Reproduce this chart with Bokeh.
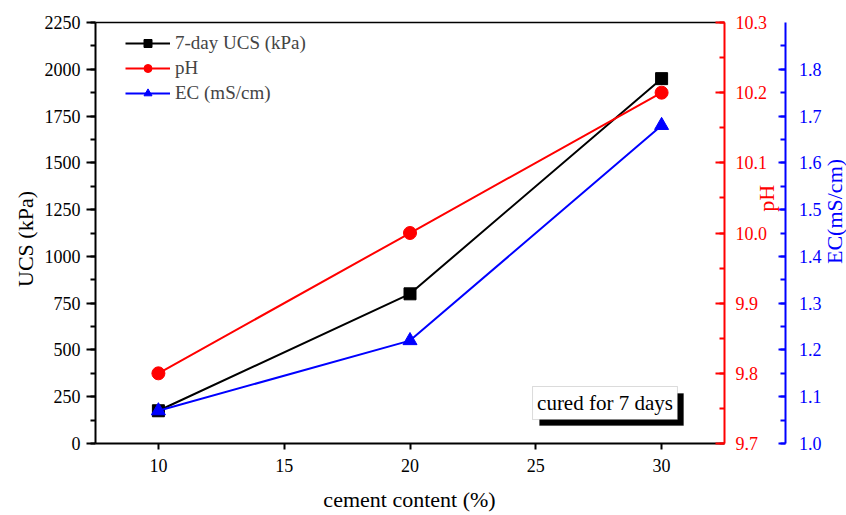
import math
from bokeh.plotting import figure
from bokeh.models import (Range1d, LinearAxis, SingleIntervalTicker, FixedTicker, PrintfTickFormatter,
                          BoxAnnotation, Label, Legend, LegendItem)
from bokeh.embed import file_html
from bokeh.resources import INLINE

cement = [10, 20, 30]
ucs = [175, 800, 1950]
ph = [9.80, 10.00, 10.20]
ec = [1.07, 1.22, 1.68]

FONT = "Liberation Serif"
RED = "#FF0000"
BLUE = "#0000FF"

X_MIN, X_MAX = 7.5, 32.5          # data extent of the drawn box
Y_MIN, Y_MAX = 0, 2250
# the view covers the whole canvas so that every axis (fixed in place) stays visible
X_VIEW = (3.724, 37.349)
Y_VIEW = (-384.8, 2367.6)
EC_AXIS_X = 34.94                 # where the EC axis stands

p = figure(width=846, height=515, output_backend="svg", toolbar_location=None,
           x_range=Range1d(*X_VIEW), y_range=Range1d(*Y_VIEW),
           min_border=0, min_border_left=0, min_border_top=0, min_border_bottom=0, min_border_right=0)
p.grid.visible = False
p.outline_line_color = None
p.background_fill_color = "white"
p.border_fill_color = "white"

p.extra_y_ranges = {"ph": Range1d(9.7, 10.3, bounds=None), "ec": Range1d(1.0, 1.9)}
# the extra ranges must map 9.7..10.3 and 1.0..1.9 onto the same pixels as 0..2250
span = (Y_VIEW[1] - Y_VIEW[0]) / (Y_MAX - Y_MIN)
def stretched(lo, hi):
    k = (hi - lo) / (Y_MAX - Y_MIN)
    return Range1d(lo + (Y_VIEW[0] - Y_MIN) * k, lo + (Y_VIEW[1] - Y_MIN) * k)
p.extra_y_ranges = {"ph": stretched(9.7, 10.3), "ec": stretched(1.0, 1.9)}

# bottom axis
xa = p.xaxis[0]
xa.ticker = SingleIntervalTicker(interval=5, num_minor_ticks=0)
xa.bounds = (X_MIN, X_MAX)
xa.fixed_location = Y_MIN
# left axis
ya = p.yaxis[0]
ya.ticker = SingleIntervalTicker(interval=250, num_minor_ticks=2)
ya.bounds = (Y_MIN, Y_MAX)
ya.fixed_location = X_MIN

for ax in (xa, ya):
    ax.axis_line_width = 2
    ax.axis_line_color = "black"
    ax.major_tick_line_width = 2
    ax.minor_tick_line_width = 2
    ax.major_label_text_font = FONT
    ax.major_label_text_font_size = "18px"
    ax.major_label_text_color = "black"
xa.major_tick_in = 0
xa.major_tick_out = 6
xa.major_label_standoff = 9
ya.major_tick_in = 0
ya.major_tick_out = 9
ya.minor_tick_in = 0
ya.minor_tick_out = 5
ya.major_label_standoff = 6

# top frame line
top = LinearAxis(fixed_location=Y_MAX, bounds=(X_MIN, X_MAX), ticker=FixedTicker(ticks=[]),
                 axis_line_color="black", axis_line_width=1.5)
p.add_layout(top, "above")

# right axes
ax_ph = LinearAxis(y_range_name="ph", fixed_location=X_MAX, bounds=(9.7, 10.3),
                   ticker=SingleIntervalTicker(interval=0.1, num_minor_ticks=2),
                   formatter=PrintfTickFormatter(format="%.1f"))
ax_ec = LinearAxis(y_range_name="ec", fixed_location=EC_AXIS_X, bounds=(1.0, 1.9),
                   ticker=SingleIntervalTicker(interval=0.1, num_minor_ticks=2),
                   formatter=PrintfTickFormatter(format="%.1f"))
for ax, col, tin, std in ((ax_ph, RED, 9, 11), (ax_ec, BLUE, 7, 13)):
    ax.axis_line_color = col
    ax.axis_line_width = 2
    ax.major_tick_line_color = col
    ax.minor_tick_line_color = col
    ax.major_tick_line_width = 2
    ax.minor_tick_line_width = 2
    ax.major_tick_in = tin
    ax.major_tick_out = 0
    ax.minor_tick_in = 5
    ax.minor_tick_out = 0
    ax.major_label_standoff = std
    ax.major_label_text_color = col
    ax.major_label_text_font = FONT
    ax.major_label_text_font_size = "18px"
p.add_layout(ax_ph, "right")
p.add_layout(ax_ec, "right")

# axis titles
titles = [
    ("UCS (kPa)", 4.72, 1093, math.pi / 2, "black"),
    ("cement content (%)", 19.98, -299, 0, "black"),
    ("pH", 34.17, 1310, math.pi / 2, RED),
    ("EC(mS/cm)", 36.87, 1240, math.pi / 2, BLUE),
]
for txt, tx, ty, ang, col in titles:
    p.add_layout(Label(x=tx, y=ty, text=txt, angle=ang, text_align="center", text_baseline="middle",
                       text_font=FONT, text_font_size="22px", text_color=col))

# series
l1 = p.line(cement, ucs, line_color="black", line_width=2)
s1 = p.scatter(cement, ucs, marker="square", size=12, fill_color="black", line_color="black")
l2 = p.line(cement, ph, line_color=RED, line_width=2, y_range_name="ph")
s2 = p.scatter(cement, ph, marker="circle", size=13, fill_color=RED, line_color=RED, y_range_name="ph")
l3 = p.line(cement, ec, line_color=BLUE, line_width=2, y_range_name="ec")
s3 = p.scatter(cement, ec, marker="triangle", size=14, fill_color=BLUE, line_color=BLUE, y_range_name="ec")

legend = Legend(items=[LegendItem(label="7-day UCS (kPa)", renderers=[l1, s1]),
                       LegendItem(label="pH", renderers=[l2, s2]),
                       LegendItem(label="EC (mS/cm)", renderers=[l3, s3])],
                location=(125, 411), padding=0, margin=0, spacing=3,
                glyph_width=45, glyph_height=20, label_standoff=5,
                label_text_font=FONT, label_text_font_size="19px",
                border_line_color=None, background_fill_alpha=0)
p.add_layout(legend)

# "cured for 7 days" note with drop shadow
shadow = BoxAnnotation(left=25.15, right=30.87, top=267, bottom=96,
                       fill_color="black", fill_alpha=1, line_color="black", level="overlay")
box = BoxAnnotation(left=24.87, right=30.63, top=304.6, bottom=128,
                    fill_color="white", fill_alpha=1, line_color="#888888", line_width=1, level="overlay")
p.add_layout(shadow)
p.add_layout(box)
note = Label(x=27.75, y=216, text="cured for 7 days", text_align="center", text_baseline="middle",
             text_font=FONT, text_font_size="21px", text_color="black", level="overlay")
p.add_layout(note)

open("out.html", "w").write(file_html(p, INLINE))
